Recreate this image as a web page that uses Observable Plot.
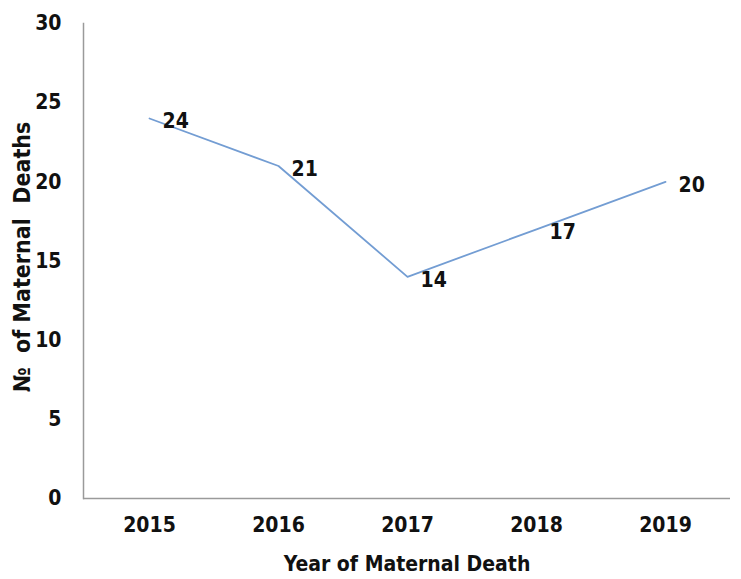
<!DOCTYPE html>
<html>
<head>
<meta charset="utf-8">
<script src="https://cdn.jsdelivr.net/npm/d3@7"></script>
<script src="https://cdn.jsdelivr.net/npm/@observablehq/plot@0.6"></script>
<style>
  html, body { margin: 0; padding: 0; background: #fff; }
  #chart svg { font-family: "DejaVu Sans Condensed", "DejaVu Sans", sans-serif; font-weight: bold; }
</style>
</head>
<body>
<div id="chart"></div>
<script>
const years = ["2015", "2016", "2017", "2018", "2019"];
const deaths = [24, 21, 14, 17, 20];
const yTicks = [0, 5, 10, 15, 20, 25, 30];
const xTitle = "Year of Maternal Death";
const yTitle = "№\u00a0\u00a0of Maternal\u00a0\u00a0Deaths";

const data = years.map((y, i) => ({year: y, value: deaths[i]}));
const FS = 21;

const chart = Plot.plot({
  width: 741,
  height: 579,
  marginLeft: 83,
  marginRight: 11,
  marginTop: 23,
  marginBottom: 81,
  style: {fontSize: FS + "px", color: "#111", background: "#fff"},
  x: {type: "point", domain: years, padding: 0.5, label: null},
  y: {domain: [0, 30], label: null},
  marks: [
    Plot.frame({anchor: "left", stroke: "#9a9a9a", strokeWidth: 1.5}),
    Plot.ruleY([0], {stroke: "#9a9a9a", strokeWidth: 1.5}),
    Plot.axisY(yTicks, {tickSize: 0, tickPadding: 22, fontSize: FS, fontWeight: "bold"}),
    Plot.axisX(years, {tickSize: 0, tickPadding: 19, fontSize: FS, fontWeight: "bold", label: null}),
    Plot.line(data, {x: "year", y: "value", stroke: "#739dd3", strokeWidth: 1.8}),
    Plot.text(data, {x: "year", y: "value", text: d => String(d.value), textAnchor: "start", dx: 13, dy: 3, fontSize: FS, fontWeight: "bold", fill: "#111"}),
    Plot.text([xTitle], {frameAnchor: "bottom", textAnchor: "middle", lineAnchor: "middle", dy: 66, fontSize: FS, fontWeight: "bold", fill: "#111"}),
    Plot.text([yTitle], {frameAnchor: "left", textAnchor: "middle", lineAnchor: "middle", dx: -61, dy: -4, rotate: -90, fontSize: 23, fontWeight: "bold", fill: "#111"})
  ]
});
document.getElementById("chart").appendChild(chart);
</script>
</body>
</html>
